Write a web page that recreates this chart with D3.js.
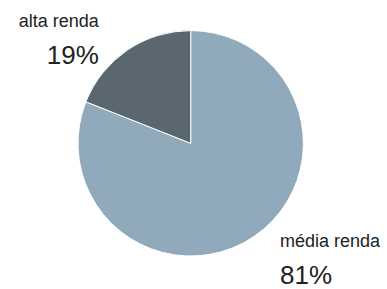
<!DOCTYPE html>
<html>
<head>
<meta charset="utf-8">
<script src="https://cdn.jsdelivr.net/npm/d3@7"></script>
<style>
  body { margin: 0; background: #fff; }
  text { font-family: "Liberation Sans", Arial, sans-serif; fill: #222; }
</style>
</head>
<body>
<svg id="chart" width="387" height="289"></svg>
<script>
// data
var categories = ['média renda', 'alta renda'];
var values = [81, 19];
var colors = ['#91aabb', '#5b676e'];

var width = 387, height = 289,
  cx = 190.7, cy = 143.3, radius = 112.7;

var svg = d3.select('#chart');
var g = svg.append('g').attr('transform', 'translate(' + cx + ',' + cy + ')');

var pie = d3.pie().sort(null).value(function(d) { return d; });
var arc = d3.arc().innerRadius(0).outerRadius(radius);
var arcs = pie(values);

g.selectAll('.slice')
  .data(arcs)
  .enter().append('path')
  .attr('class', 'slice')
  .attr('d', arc)
  .style('fill', function(d, i) { return colors[i]; })
  .style('stroke', '#fff')
  .style('stroke-width', 1);

// labels sit off the slice's mid angle, outside the pie
var labelArc = d3.arc().innerRadius(radius * 1.3).outerRadius(radius * 1.3);

var labels = g.selectAll('.lbl')
  .data(arcs)
  .enter().append('g')
  .attr('class', 'lbl')
  .attr('transform', function(d) {
    var c = labelArc.centroid(d);
    var left = c[0] < 0;
    // nudge so text block aligns to the picture
    var x = left ? c[0] - 9.5 : c[0] + 7;
    var y = left ? c[1] + 5 : c[1] - 17;
    return 'translate(' + x + ',' + y + ')';
  });

labels.append('text')
  .attr('text-anchor', function(d) { return labelArc.centroid(d)[0] < 0 ? 'end' : 'start'; })
  .style('font-size', '18px')
  .text(function(d, i) { return categories[i]; });

labels.append('text')
  .attr('y', function(d) { return labelArc.centroid(d)[0] < 0 ? 37 : 37; })
  .attr('text-anchor', function(d) { return labelArc.centroid(d)[0] < 0 ? 'end' : 'start'; })
  .style('font-size', '26px')
  .text(function(d) { return d.value + '%'; });
</script>
</body>
</html>
